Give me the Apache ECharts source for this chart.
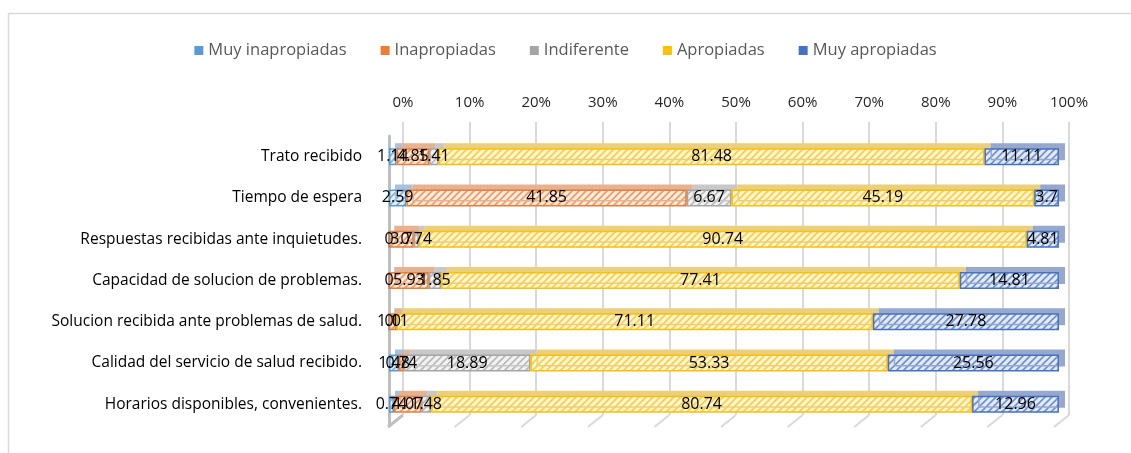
<!DOCTYPE html>
<html><head><meta charset="utf-8">
<script src="https://cdn.jsdelivr.net/npm/echarts@6/dist/echarts.min.js"></script>
<style>html,body{margin:0;padding:0;background:#fff}#c{width:1131px;height:453px}</style>
</head><body><div id="c"></div>
<script>
const categories = ['Trato recibido', 'Tiempo de espera', 'Respuestas recibidas ante inquietudes.', 'Capacidad de solucion de problemas.', 'Solucion recibida ante problemas de salud.', 'Calidad del servicio de salud recibido.', 'Horarios disponibles, convenientes.'];
const seriesNames = ['Muy inapropiadas', 'Inapropiadas', 'Indiferente', 'Apropiadas', 'Muy apropiadas'];
const muyInapropiadas = [1.14, 2.59, 0, 0, 0, 1.48, 0.74];
const inapropiadas = [4.85, 41.85, 3.7, 5.93, 1.11, 0.74, 4.07];
const indiferente = [1.41, 6.67, 0.74, 1.85, 0, 18.89, 1.48];
const apropiadas = [81.48, 45.19, 90.74, 77.41, 71.11, 53.33, 80.74];
const muyApropiadas = [11.11, 3.7, 4.81, 14.81, 27.78, 25.56, 12.96];
const percentTicks = [0, 10, 20, 30, 40, 50, 60, 70, 80, 90, 100];

const seriesValues = [muyInapropiadas, inapropiadas, indiferente, apropiadas, muyApropiadas];
const colors = ['#5B9BD5', '#ED7D31', '#A5A5A5', '#FFC000', '#4472C4'];
const shadeColors = ['#a9c2da', '#e4b394', '#c8c8c8', '#e8cf82', '#97a8cb'];
const FONT = '"Open Sans", "Liberation Sans", sans-serif';

function hatch(color) {
  const s = 7;
  const c = document.createElement('canvas'); c.width = s; c.height = s;
  const g = c.getContext('2d');
  g.fillStyle = '#ffffff'; g.fillRect(0, 0, s, s);
  g.globalAlpha = 0.15; g.fillStyle = color; g.fillRect(0, 0, s, s);
  g.globalAlpha = 0.75; g.strokeStyle = color; g.lineWidth = 1.6;
  g.beginPath();
  g.moveTo(0, s); g.lineTo(s, 0);
  g.moveTo(-s, s); g.lineTo(s, -s);
  g.moveTo(0, 2 * s); g.lineTo(2 * s, 0);
  g.stroke();
  return { image: c, repeat: 'repeat' };
}

const chart = echarts.init(document.getElementById('c'), null, { renderer: 'canvas' });

const barSeries = seriesNames.map((name, i) => ({
  name: name,
  type: 'bar',
  stack: 'total',
  xAxisIndex: 1,
  yAxisIndex: 1,
  barWidth: 17,
  data: seriesValues[i],
  itemStyle: {
    color: hatch(colors[i]),
    borderColor: colors[i],
    borderWidth: 1.5,
    shadowColor: shadeColors[i],
    shadowOffsetX: 6,
    shadowOffsetY: -5,
    shadowBlur: 0
  },
  label: {
    show: true,
    position: 'inside',
    color: '#000',
    fontSize: 16,
    fontFamily: FONT
  },
  emphasis: { disabled: true }
}));

const floorSeries = {
  type: 'custom',
  xAxisIndex: 0,
  yAxisIndex: 0,
  silent: true,
  z: 1,
  data: percentTicks.map(v => [v, 0]),
  encode: { x: 0, y: 1 },
  renderItem: function (params, api) {
    const p = api.coord([api.value(0), api.value(1)]);
    return {
      type: 'line',
      shape: { x1: p[0], y1: p[1], x2: p[0] - 15, y2: p[1] + 12 },
      style: { stroke: api.value(0) === 0 ? '#bfbfbf' : '#d9d9d9', lineWidth: api.value(0) === 0 ? 3 : 2 }
    };
  }
};

chart.setOption({
  animation: false,
  textStyle: { fontFamily: FONT },
  graphic: [{
    type: 'rect', silent: true,
    shape: { x: 8.5, y: 13.5, width: 1300, height: 600 },
    style: { fill: 'none', stroke: '#d9d9d9', lineWidth: 1.5 }
  }],
  legend: {
    top: 37,
    left: 'center',
    itemWidth: 9,
    itemHeight: 9,
    itemGap: 34,
    icon: 'rect',
    textStyle: { fontSize: 16.5, color: '#595959', fontFamily: FONT },
    data: seriesNames.map((n, i) => ({ name: n, itemStyle: { color: colors[i], borderWidth: 0, shadowBlur: 0, shadowOffsetX: 0, shadowOffsetY: 0 } }))
  },
  grid: [
    { left: 403, right: 62, top: 122, bottom: 38 },
    { left: 389, width: 670, top: 136, height: 289 }
  ],
  xAxis: [
    {
      gridIndex: 0, type: 'value', position: 'top', min: 0, max: 100, interval: 10,
      axisLine: { show: false }, axisTick: { show: false },
      axisLabel: { formatter: '{value}%', fontSize: 15, color: '#262626', margin: 12, fontFamily: FONT },
      splitLine: { show: true, lineStyle: { color: '#d9d9d9', width: 2 } }
    },
    {
      gridIndex: 1, type: 'value', min: 0, max: 100, show: false
    }
  ],
  yAxis: [
    { gridIndex: 0, type: 'value', min: 0, max: 1, show: false },
    {
      gridIndex: 1, type: 'category', data: categories, inverse: true,
      axisLine: { show: true, lineStyle: { color: '#bfbfbf', width: 3 } },
      offset: 3,
      axisTick: { show: false },
      axisLabel: { fontSize: 15.5, color: '#000', margin: 24, fontFamily: FONT }
    }
  ],
  series: [floorSeries].concat(barSeries)
});
</script>
</body></html>
